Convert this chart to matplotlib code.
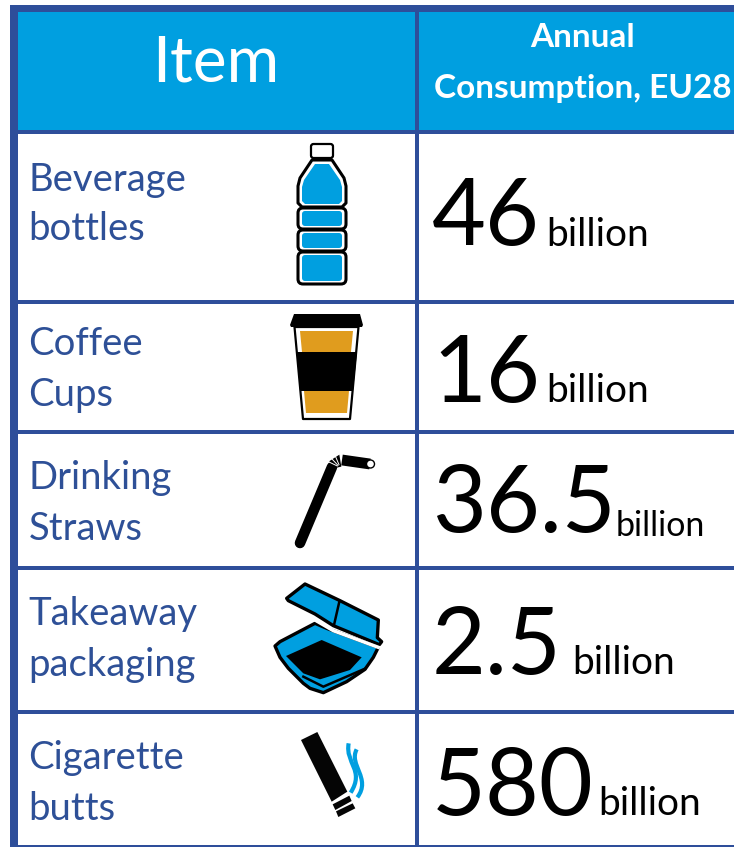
"""Single-use plastics table: item, icon and annual EU28 consumption."""
import matplotlib
matplotlib.use("Agg")
import matplotlib.pyplot as plt
from matplotlib.patches import Rectangle, Polygon, Circle, FancyBboxPatch, PathPatch
from matplotlib.path import Path

items = ["Beverage\nbottles", "Coffee\nCups", "Drinking\nStraws", "Takeaway\npackaging", "Cigarette\nbutts"]
values = ["46", "16", "36.5", "2.5", "580"]
unit = "billion"
header_item = "Item"
header_value = ["Annual", "Consumption, EU28"]

BLUE = "#009FE0"
RULE = "#2E4E9A"
INK = "#2E5097"
ORANGE = "#E09C1E"

# pixel layout of the table
label_y = [(191, 240), (355, 406), (489, 540), (625, 676), (769, 820)]
value_x = 432
value_base = [245, 402, 532, 674, 815]
unit_xy = [(546, 246), (546, 402), (616, 536), (572, 674), (598, 815)]
unit_size = [28, 28, 24.5, 28, 28]

plt.rcParams["font.family"] = ["Lato", "DejaVu Sans"]
fig = plt.figure(figsize=(7.34, 8.47), dpi=100)
ax = fig.add_axes([0, 0, 1, 1])
ax.set_xlim(0, 734)
ax.set_ylim(847, 0)
ax.axis("off")


def rect(x0, y0, x1, y1, color, z=1):
    ax.add_patch(Rectangle((x0, y0), x1 - x0, y1 - y0, fc=color, ec="none", zorder=z))


def poly(pts, fc, ec="none", lw=0, z=3, origin=(0, 0), scale=1.0):
    pts = [(origin[0] + x * scale, origin[1] + y * scale) for x, y in pts]
    ax.add_patch(Polygon(pts, closed=True, fc=fc, ec=ec, lw=lw, zorder=z, joinstyle="round"))


def rbox(x0, y0, x1, y1, r, fc, ec="none", lw=0, z=3):
    ax.add_patch(FancyBboxPatch((x0 + r, y0 + r), x1 - x0 - 2 * r, y1 - y0 - 2 * r,
                                boxstyle=f"round,pad={r},rounding_size={r}",
                                fc=fc, ec=ec, lw=lw, zorder=z))


# table frame
rect(18, 12, 734, 130, BLUE)
rect(10, 5, 734, 12, RULE, 2)
rect(10, 5, 18, 847, RULE, 2)
rect(10, 130, 734, 134, RULE, 2)
rect(415, 12, 419, 847, RULE, 2)
for y0, y1 in [(300.5, 304), (430, 434), (566, 570), (710, 714), (845, 847)]:
    rect(10, y0, 734, y1, RULE, 2)

# header text
ax.text(216, 82, header_item, color="white", fontsize=46, ha="center", va="baseline")
ax.text(583, 47, header_value[0], color="white", fontsize=24, fontweight="bold", ha="center", va="baseline")
ax.text(583, 98, header_value[1], color="white", fontsize=24, fontweight="bold", ha="center", va="baseline")

# row text
for i, name in enumerate(items):
    first, second = name.split("\n")
    ax.text(28.5, label_y[i][0], first, color=INK, fontsize=27.5, va="baseline")
    ax.text(28.5, label_y[i][1], second, color=INK, fontsize=27.5, va="baseline")
    ax.text(value_x, value_base[i], values[i], color="black", fontsize=67, va="baseline")
    ax.text(unit_xy[i][0], unit_xy[i][1], unit, color="black", fontsize=unit_size[i], va="baseline")

# bottle
rbox(311, 144, 333, 158, 2.5, "white", "black", 1.6)
poly([(312, 160), (332, 160), (344, 178), (346, 186), (346, 203), (342, 207),
      (302, 207), (298, 203), (298, 186), (300, 178)], "white", "black", 2.2)
poly([(315, 164), (329, 164), (340, 180), (342, 187), (342, 201), (339, 204),
      (305, 204), (302, 201), (302, 187), (304, 180)], BLUE)
for y0, y1 in [(208, 229), (230, 251), (252, 284)]:
    rbox(298, y0, 346, y1, 5, "white", "black", 2.2)
    rbox(302, y0 + 3, 342, y1 - 3, 3, BLUE)

# coffee cup
poly([(294.5, 327), (358.5, 327), (350, 419), (303, 419)], "white", "black", 1.6)
poly([(294, 314), (360, 314), (363, 325), (362, 327), (291, 327), (290, 325)], "black")
poly([(300, 331), (353, 331), (351, 352), (302, 352)], ORANGE)
poly([(297, 352), (357, 352), (353, 391), (300, 391)], "black")
poly([(304, 391), (349, 391), (347, 413), (306, 413)], ORANGE)

# straw
o, s = (260, 300), 1 / 3
ax.plot([300, 332], [543, 467], color="black", lw=7.6, solid_capstyle="round", zorder=3)
ax.plot([342, 370], [460, 464], color="black", lw=7.8, solid_capstyle="butt", zorder=3)
poly([(207, 484), (238, 464), (244, 500), (230, 503)], "black", origin=o, scale=s)
for a, b in [((207, 486), (232, 498)), ((214, 475), (234, 496)), ((225, 466), (237, 494))]:
    ax.plot([260 + a[0] * s, 260 + b[0] * s], [300 + a[1] * s, 300 + b[1] * s], color="white", lw=0.7, zorder=4)
ax.add_patch(Circle((370.5, 464), 4, fc="white", ec="black", lw=1, zorder=4))

# takeaway box
o = (260, 570)
poly([(80, 85), (135, 42), (240, 92), (355, 150), (352, 203), (365, 215), (358, 224), (220, 167), (165, 132), (85, 92)],
     BLUE, "black", 2.4, origin=o, scale=s)
ax.plot([260 + 238 * s, 260 + 222 * s], [570 + 95 * s, 570 + 165 * s], color="black", lw=1.8, zorder=4)
poly([(45, 228), (60, 215), (165, 160), (200, 175), (355, 232), (340, 262), (315, 298), (260, 335),
      (190, 368), (150, 355), (130, 340), (85, 295), (60, 262)],
     BLUE, "black", 2.4, origin=o, scale=s)
poly([(78, 258), (185, 210), (305, 262), (270, 300), (180, 328), (130, 310)], "black", origin=o, scale=s)
ax.plot([260 + 130 * s, 260 + 190 * s, 260 + 315 * s], [570 + 320 * s, 570 + 350 * s, 570 + 296 * s],
        color="black", lw=1.8, zorder=4)
ax.plot([260 + 165 * s, 260 + 220 * s, 260 + 355 * s], [570 + 150 * s, 570 + 182 * s, 570 + 232 * s],
        color="white", lw=2.5, zorder=5)

# cigarette
poly([(123, 510), (172, 486), (262, 665), (215, 695)], "#050505", origin=o, scale=s)
poly([(218, 703), (268, 677), (275, 693), (226, 720)], "#050505", origin=o, scale=s)
poly([(228, 724), (278, 700), (286, 715), (235, 741)], "#050505", origin=o, scale=s)
smoke = [
    [(266, 520), (255, 580), (315, 600), (272, 668)],
    [(290, 538), (265, 585), (335, 625), (292, 682)],
]
for curve in smoke:
    pts = [(260 + x * s, 570 + y * s) for x, y in curve]
    ax.add_patch(PathPatch(Path(pts, [Path.MOVETO, Path.CURVE4, Path.CURVE4, Path.CURVE4]),
                           fc="none", ec=BLUE, lw=3, zorder=3))

fig.savefig("out.png", dpi=100)
